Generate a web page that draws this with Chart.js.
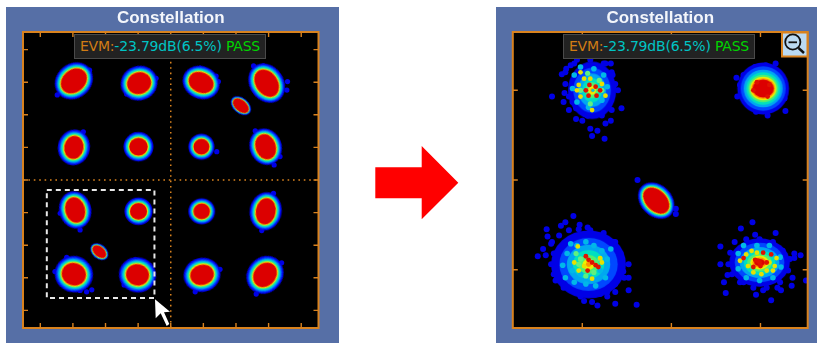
<!DOCTYPE html>
<html>
<head>
<meta charset="utf-8">
<title>Constellation</title>
<script src="https://cdn.jsdelivr.net/npm/chart.js@4/dist/chart.umd.min.js"></script>
<style>
  html, body { margin: 0; padding: 0; background: #fff; overflow: hidden; }
  .panel { position: absolute; top: 7px; height: 336px; background: #566FA6; }
  .panel canvas { position: absolute; left: 0; top: 0; filter: blur(0.35px); }
  .evm {
    position: absolute; top: 34px; height: 23px; width: 190px; box-sizing: content-box;
    background: #222; border: 1px solid #4a4a4a; text-align: center;
    font: 14px/23px "DejaVu Sans", sans-serif; white-space: nowrap; letter-spacing: -0.2px;
  }
  .evm .lbl { color: #D27C14; }
  .evm .val { color: #00C4C4; }
  .evm .ok { color: #00D400; }
  svg.over { position: absolute; left: 0; top: 0; }
</style>
</head>
<body>
<div class="panel" style="left:6px;width:332.5px"><canvas id="fullChart"></canvas></div>
<div class="panel" style="left:495.5px;width:321.5px"><canvas id="zoomChart"></canvas></div>
<div class="evm" style="left:74px"><span class="lbl">EVM:</span><span class="val">-23.79dB(6.5%)</span> <span class="ok">PASS</span></div>
<div class="evm" style="left:563px"><span class="lbl">EVM:</span><span class="val">-23.79dB(6.5%)</span> <span class="ok">PASS</span></div>
<svg class="over" width="817" height="343">
  <polygon points="375.3,167.3 421.7,167.3 421.7,146 458.3,182.7 421.7,219.3 421.7,198.3 375.3,198.3" fill="#FF0000"/>
  <polygon points="155,299.3 155.7,318.3 160.7,313.3 166.7,326 169.3,324 164,312.3 170,311.7" fill="#fff"/>
  <rect x="782" y="32.5" width="25.5" height="24" fill="#BBDAF2" stroke="#D9821E" stroke-width="2"/>
  <circle cx="792.8" cy="42" r="7.6" fill="none" stroke="#111" stroke-width="1.8"/>
  <line x1="788.5" y1="42.3" x2="797" y2="42.3" stroke="#111" stroke-width="1.8"/>
  <line x1="798.5" y1="48" x2="804" y2="53" stroke="#111" stroke-width="2.4"/>
</svg>
<script>
'use strict';

// ===== Axis setup (I/Q in symbol units) =====
var fullRangeI = [-4.53, 4.53];
var fullRangeQ = [-4.54, 4.54];
var fullTicks = [-4, -3, -2, -1, 0, 1, 2, 3, 4];
var zoomRangeI = [-3.78, -0.47];
var zoomRangeQ = [-3.65, -0.35];
var zoomTicks = [-3, -2, -1];
var marqueeI = [-3.80, -0.50, -0.50, -3.80, -3.80];
var marqueeQ = [-0.31, -0.31, -3.62, -3.62, -0.31];

// ===== Full view clusters =====
var fullI = [-2.97, -0.97, 0.93, 2.94, 2.15, -2.97, -0.99, 0.94, 2.91, -2.93, -0.99, 0.95, 2.91, -2.19, -2.97, -1.02, 0.96, 2.89];
var fullQ = [3.04, 2.97, 2.99, 2.97, 2.28, 1.00, 1.02, 1.02, 1.02, -0.92, -0.96, -0.96, -0.96, -2.20, -2.89, -2.91, -2.91, -2.91];
var fullMajor = [0.43, 0.37, 0.39, 0.45, 0.28, 0.35, 0.28, 0.24, 0.39, 0.39, 0.26, 0.25, 0.40, 0.24, 0.37, 0.35, 0.36, 0.40];
var fullMinor = [0.34, 0.33, 0.31, 0.33, 0.17, 0.29, 0.27, 0.24, 0.31, 0.30, 0.25, 0.24, 0.30, 0.15, 0.34, 0.32, 0.31, 0.33];
var fullTilt = [-40, -20, 25, 55, 40, -80, 0, 0, 70, 75, 0, 0, -80, 40, 20, 15, -15, -50];
var fullHaloMajor = [0.19, 0.2, 0.19, 0.19, 0.07, 0.2, 0.18, 0.16, 0.18, 0.19, 0.17, 0.16, 0.19, 0.07, 0.22, 0.22, 0.21, 0.21];
var fullHaloMinor = [0.19, 0.2, 0.19, 0.19, 0.07, 0.2, 0.18, 0.16, 0.18, 0.19, 0.17, 0.16, 0.19, 0.07, 0.22, 0.22, 0.21, 0.21];
var fullStrayI = [-2.97, -2.49, -3.48, -0.69, -0.45, -1.40, -1.35, 1.39, 1.46, 2.54, 2.84, 3.58, 3.56, 0.90, 1.41, 3.35, 3.17, 2.59, -2.68, -0.65, -1.09, -2.42, -3.39, -2.78, 2.79, 2.62, 0.75, 1.51, 3.40, 3.15, -1.43, -3.19, -1.09, -0.84, -3.55, -2.58, -2.78];
var fullStrayQ = [3.51, 3.37, 2.61, 3.35, 3.12, 3.07, 2.64, 3.19, 3.02, 3.50, 3.50, 3.02, 2.76, 3.43, 0.87, 0.72, 0.46, 1.51, 1.48, 1.02, 1.38, -3.37, -1.02, -1.53, -1.55, -3.50, -3.43, -2.74, -2.54, -0.41, -3.22, -2.37, -2.45, -2.51, -2.81, -3.43, -3.39];

// ===== Zoomed view clusters =====
var zoomI = [-2.89, -0.97, -2.93, -1.01, -2.17];
var zoomQ = [-1.00, -0.98, -2.94, -2.92, -2.23];
var zoomMajor = [0, 0.12, 0, 0.06, 0.17];
var zoomMinor = [0, 0.10, 0, 0.04, 0.115];
var zoomTilt = [0, 0, 0, 0, 45];
var zoomHaloMajor = [0.27, 0.17, 0.42, 0.28, 0.06];
var zoomHaloMinor = [0.32, 0.19, 0.38, 0.23, 0.06];
var zoomBlueI = [-3.34, -3.23, -3.18, -3.20, -3.21, -3.11, -2.56, -2.67, -2.68, -2.74, -2.83, -2.89, -2.75, -3.00, -3.07, -2.60, -2.68, -2.74, -3.15, -3.09, -2.91, -2.94, -2.78, -3.15, -2.67, -2.63,
  -3.19, -3.19, -3.15, -3.07, -2.94, -2.83, -2.68, -2.65, -2.66, -2.76, -2.91, -3.06, -3.13,
  -0.99, -1.27, -1.26, -0.75, -0.73, -0.72, -1.05, -0.92, -0.83, -0.94,
  -1.19, -1.06, -0.91, -0.78, -0.75, -0.78, -0.93, -1.08, -1.19, -1.23,
  -3.10, -3.19, -3.24, -3.40, -3.39, -3.34, -3.44, -3.50, -2.76, -2.94, -3.03, -2.63, -2.48, -2.48, -2.54, -2.53, -2.48, -2.63, -2.63, -2.39, -2.83, -2.89, -2.98, -3.02, -2.72, -2.80, -3.21, -3.32, -3.31, -3.09, -2.94,
  -3.41, -3.35, -3.26, -3.15, -3.04, -2.91, -2.80, -2.65, -2.57, -2.55, -2.59, -2.63, -2.72, -3.30, -3.22, -3.09, -3.35, -3.32, -2.87,
  -1.09, -1.22, -0.83, -1.06, -1.45, -1.45, -1.37, -1.41, -1.39, -0.88, -1.05, -0.49, -0.55, -0.62, -0.65, -0.64, -0.81, -0.77, -1.19, -0.97,
  -1.34, -1.29, -1.16, -1.01, -0.86, -0.75, -0.67, -0.69, -0.78, -0.93, -1.08, -1.23, -1.32, -1.36, -0.62,
  -2.38, -1.95, -1.95];
var zoomBlueQ = [-1.07, -0.82, -0.76, -1.03, -1.13, -1.13, -1.20, -1.22, -1.34, -1.37, -1.45, -1.51, -1.54, -1.34, -1.32, -1.00, -0.70, -0.70, -0.59, -0.70, -1.43, -1.28, -1.28, -1.22, -0.80, -0.93,
  -0.80, -0.93, -1.07, -1.20, -1.28, -1.24, -1.11, -0.96, -0.83, -0.70, -0.66, -0.66, -0.72,
  -0.73, -0.86, -1.07, -0.87, -1.09, -1.23, -1.24, -1.28, -0.70, -0.72,
  -0.83, -0.74, -0.76, -0.85, -0.98, -1.13, -1.19, -1.19, -1.07, -0.94,
  -2.40, -2.47, -2.51, -2.55, -2.63, -2.69, -2.77, -2.85, -2.59, -2.53, -2.50, -2.69, -2.94, -3.09, -3.02, -3.09, -3.23, -3.25, -3.38, -3.39, -3.40, -3.36, -3.35, -3.30, -3.30, -3.27, -3.20, -3.05, -2.99, -3.20, -3.25,
  -2.84, -2.71, -2.62, -2.56, -2.55, -2.56, -2.62, -2.69, -2.82, -2.94, -3.05, -3.16, -3.25, -3.12, -3.05, -3.23, -2.94, -2.82, -3.27,
  -2.47, -2.54, -2.59, -2.61, -2.74, -2.94, -3.06, -3.14, -3.26, -3.34, -3.28, -3.12, -2.84, -2.87, -3.18, -3.09, -3.20, -3.23, -3.14, -3.23,
  -2.81, -2.69, -2.66, -2.66, -2.69, -2.79, -2.88, -3.01, -3.14, -3.20, -3.20, -3.14, -3.05, -2.94, -2.82,
  -2.00, -2.32, -2.38];
var zoomTealI = [-3.09, -3.11, -3.06, -2.93, -2.78, -2.72, -2.76, -2.87, -3.02,
  -3.13, -3.06, -2.96, -2.87, -3.17, -3.22, -3.11, -3.02, -2.91, -2.80, -2.72, -2.78, -2.68, -2.74, -3.19, -3.09, -2.96, -2.85,
  -1.25, -1.19, -1.04, -0.90, -0.78, -0.77, -0.86, -1.01, -1.16, -1.25];
var zoomTealQ = [-0.83, -0.98, -1.13, -1.19, -1.11, -0.96, -0.83, -0.76, -0.74,
  -2.71, -2.73, -2.69, -2.73, -2.82, -2.95, -3.01, -3.05, -3.09, -3.01, -2.88, -2.79, -2.77, -3.09, -3.09, -3.14, -3.16, -3.18,
  -2.82, -2.73, -2.73, -2.73, -2.86, -2.97, -3.09, -3.12, -3.09, -2.99];
var zoomGreenI = [-2.94, -2.81, -3.02, -2.78, -2.91, -2.80, -3.02, -3.07, -2.87, -2.96, -3.04];
var zoomGreenQ = [-0.81, -0.89, -1.00, -1.00, -1.15, -2.88, -2.88, -2.82, -3.03, -3.07, -2.94];
var zoomYellowI = [-3.02, -2.98, -2.91, -3.04, -2.78, -2.74, -3.02, -2.89, -3.06, -1.16, -1.14, -1.04, -0.90, -0.84, -0.82, -0.93, -1.08, -1.23, -0.99, -0.86, -1.10, -3.05, -2.80, -2.78, -2.98, -2.89, -3.09, -3.04];
var zoomYellowQ = [-0.80, -0.87, -0.87, -0.94, -0.93, -1.06, -1.07, -1.22, -1.00, -2.83, -2.96, -2.81, -2.92, -2.96, -2.87, -3.01, -3.03, -2.90, -3.05, -3.01, -2.79, -2.74, -2.87, -2.92, -2.96, -3.10, -2.92, -3.01];
var zoomRedI = [-2.96, -2.92, -2.85, -2.80, -2.84, -2.93, -1.04, -0.90, -0.92, -1.08, -1.03, -1.08, -0.97, -0.88, -1.19, -0.93, -1.00, -1.06, -1.01, -2.96, -2.93, -2.89, -2.85, -2.82, -2.94];
var zoomRedQ = [-1.00, -0.94, -0.96, -1.00, -1.06, -1.06, -0.91, -0.94, -1.07, -1.00, -2.90, -2.97, -2.81, -2.83, -2.87, -2.92, -2.96, -2.89, -2.92, -2.85, -2.89, -2.92, -2.95, -2.97, -3.01];
var zoomHoleI = [-2.88];
var zoomHoleQ = [-1.00];

// heat colours from the outside of a cluster to its core, with the share of the halo they reach
var HEAT_COLORS = ['#0000E6', '#0048FF', '#00A8F0', '#00E0C0', '#50F070', '#F0F000', '#FF9000', '#DC0000'];
var HEAT_REACH = [1, 0.78, 0.58, 0.42, 0.28, 0.16, 0.07, 0];
var ORANGE = '#D9821E';

function toPoints(xs, ys) {
  return xs.map(function (x, i) { return { x: x, y: ys[i] }; });
}

// one cluster as a picture for the point element, sized through the chart's own scales
function clusterImage(chart, major, minor, haloMajor, haloMinor) {
  var sx = chart.scales.x, sy = chart.scales.y;
  var pxI = Math.abs(sx.getPixelForValue(1) - sx.getPixelForValue(0));
  var pxQ = Math.abs(sy.getPixelForValue(1) - sy.getPixelForValue(0));
  var size = Math.ceil(2 * Math.max((major + haloMajor) * pxI, (minor + haloMinor) * pxQ)) + 6;
  var c = document.createElement('canvas');
  c.width = size; c.height = size;
  var ctx = c.getContext('2d');
  ctx.filter = 'blur(0.6px)';
  HEAT_COLORS.forEach(function (col, k) {
    ctx.fillStyle = col;
    ctx.beginPath();
    ctx.ellipse(size / 2, size / 2, (major + haloMajor * HEAT_REACH[k]) * pxI, (minor + haloMinor * HEAT_REACH[k]) * pxQ, 0, 0, Math.PI * 2);
    ctx.fill();
  });
  return c;
}

function clusterDataset(xs, ys, major, minor, tilt, haloMajor, haloMinor) {
  return {
    label: 'clusters',
    data: toPoints(xs, ys),
    pointRadius: 1,
    pointStyle: function (c) {
      var i = c.dataIndex;
      if (i === undefined) return 'circle';
      return clusterImage(c.chart, major[i], minor[i], haloMajor[i], haloMinor[i]);
    },
    rotation: function (c) { return tilt[c.dataIndex] || 0; }
  };
}

function dotDataset(label, xs, ys, color, radius) {
  return { label: label, data: toPoints(xs, ys), pointRadius: radius, pointBackgroundColor: color, pointBorderWidth: 0 };
}

function lineDataset(label, xs, ys, color, width, dash) {
  return { label: label, data: toPoints(xs, ys), showLine: true, pointRadius: 0, borderColor: color, borderWidth: width, borderDash: dash };
}

// black plot face
var plotFace = {
  id: 'plotFace',
  beforeDatasetsDraw: function (chart) {
    var a = chart.chartArea;
    chart.ctx.save();
    chart.ctx.fillStyle = '#000';
    chart.ctx.fillRect(a.left, a.top, a.right - a.left, a.bottom - a.top);
    chart.ctx.restore();
  }
};

// orange frame with ticks pointing inward on all four sides
function frameTicks(ticksI, ticksQ) {
  return {
    id: 'frameTicks',
    afterDatasetsDraw: function (chart) {
      var a = chart.chartArea, ctx = chart.ctx;
      ctx.save();
      ctx.strokeStyle = ORANGE;
      ctx.lineWidth = 2;
      ctx.strokeRect(a.left, a.top, a.right - a.left, a.bottom - a.top);
      ctx.lineWidth = 1.4;
      ctx.beginPath();
      ticksI.forEach(function (v) {
        var x = chart.scales.x.getPixelForValue(v);
        ctx.moveTo(x, a.top); ctx.lineTo(x, a.top + 5);
        ctx.moveTo(x, a.bottom); ctx.lineTo(x, a.bottom - 5);
      });
      ticksQ.forEach(function (v) {
        var y = chart.scales.y.getPixelForValue(v);
        ctx.moveTo(a.left, y); ctx.lineTo(a.left + 5, y);
        ctx.moveTo(a.right, y); ctx.lineTo(a.right - 5, y);
      });
      ctx.stroke();
      ctx.restore();
    }
  };
}

function buildChart(canvasId, width, padding, rangeI, rangeQ, ticksI, ticksQ, datasets) {
  var canvas = document.getElementById(canvasId);
  canvas.width = width; canvas.height = 336;
  return new Chart(canvas.getContext('2d'), {
    type: 'scatter',
    data: { datasets: datasets },
    options: {
      responsive: false, animation: false, events: [],
      layout: { padding: padding },
      plugins: {
        legend: { display: false },
        tooltip: { enabled: false },
        title: {
          display: true, text: 'Constellation', color: '#F4F6FB',
          font: { family: "'Liberation Sans', Arial, sans-serif", size: 17, weight: '700', lineHeight: 1.2 },
          padding: { top: 1, bottom: 3.6 }
        }
      },
      scales: {
        x: { type: 'linear', display: false, min: rangeI[0], max: rangeI[1] },
        y: { type: 'linear', display: false, min: rangeQ[0], max: rangeQ[1] }
      }
    },
    plugins: [plotFace, frameTicks(ticksI, ticksQ)]
  });
}

// first dataset is painted last
buildChart('fullChart', 332, { left: 17, right: 19.5, top: 0, bottom: 15 }, fullRangeI, fullRangeQ, fullTicks, fullTicks, [
  lineDataset('marquee', marqueeI, marqueeQ, '#E8E8E8', 2, [5, 4]),
  clusterDataset(fullI, fullQ, fullMajor, fullMinor, fullTilt, fullHaloMajor, fullHaloMinor),
  dotDataset('stray', fullStrayI, fullStrayQ, '#0000E6', 2.6),
  lineDataset('axisI', [0, 0], fullRangeQ, ORANGE, 1.5, [1.6, 3.8]),
  lineDataset('axisQ', fullRangeI, [0, 0], ORANGE, 1.5, [1.6, 3.8])
]);

buildChart('zoomChart', 321, { left: 16.8, right: 9.3, top: 0, bottom: 15 }, zoomRangeI, zoomRangeQ, zoomTicks, zoomTicks, [
  dotDataset('hole', zoomHoleI, zoomHoleQ, '#00C8D8', 1.6),
  dotDataset('red', zoomRedI, zoomRedQ, '#E01000', 2.4),
  dotDataset('yellow', zoomYellowI, zoomYellowQ, '#E8E000', 2.4),
  dotDataset('green', zoomGreenI, zoomGreenQ, '#60F080', 2.6),
  dotDataset('teal', zoomTealI, zoomTealQ, '#00B8E8', 2.8),
  clusterDataset(zoomI, zoomQ, zoomMajor, zoomMinor, zoomTilt, zoomHaloMajor, zoomHaloMinor),
  dotDataset('blue', zoomBlueI, zoomBlueQ, '#0000E6', 3)
]);
</script>
</body>
</html>
